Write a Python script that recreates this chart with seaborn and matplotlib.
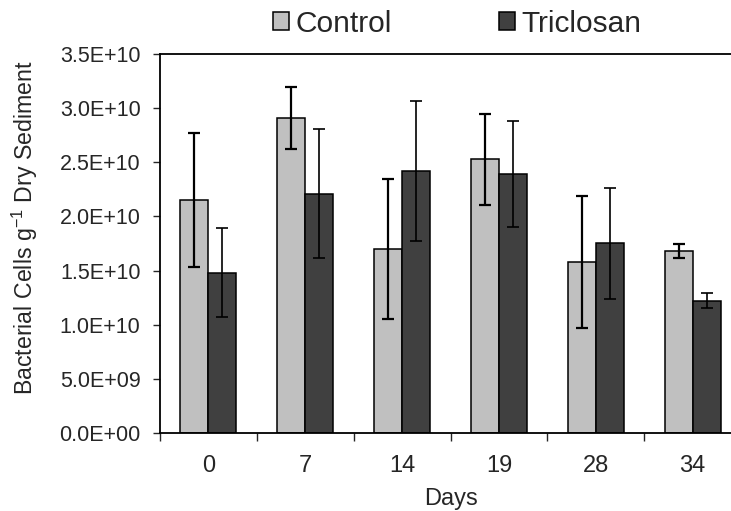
import matplotlib

matplotlib.use("Agg")
import matplotlib.pyplot as plt
import numpy as np
import pandas as pd
import seaborn as sns
from matplotlib.ticker import FuncFormatter, FixedLocator

days = ["0", "7", "14", "19", "28", "34"]
control = [2.15e10, 2.91e10, 1.70e10, 2.53e10, 1.58e10, 1.68e10]
control_err = [6.2e9, 2.85e9, 6.5e9, 4.2e9, 6.1e9, 0.65e9]
triclosan = [1.48e10, 2.21e10, 2.42e10, 2.39e10, 1.75e10, 1.22e10]
triclosan_err = [4.1e9, 5.95e9, 6.45e9, 4.9e9, 5.1e9, 0.7e9]
groups = ["Control", "Triclosan"]
colors = {"Control": "#C0C0C0", "Triclosan": "#404040"}

df = pd.DataFrame({
    "Days": days * 2,
    "Cells": control + triclosan,
    "Group": [groups[0]] * len(days) + [groups[1]] * len(days),
})

sns.set_style("ticks")
plt.rcParams["font.family"] = ["Liberation Sans", "DejaVu Sans"]
plt.rcParams["mathtext.default"] = "regular"

fig = plt.figure(figsize=(7.31, 5.11), dpi=100)
ax = fig.add_axes([160 / 731, 78 / 511, 581 / 731, 379 / 511])

sns.barplot(
    data=df, x="Days", y="Cells", hue="Group", order=days, hue_order=groups,
    palette=colors, edgecolor="black", linewidth=1.1, width=0.58, gap=0,
    errorbar=None, ax=ax,
)

for cont, err, lw in zip(ax.containers, [control_err, triclosan_err], [1.6, 1.2]):
    xs = [p.get_x() + p.get_width() / 2 for p in cont]
    ys = [p.get_height() for p in cont]
    ax.errorbar(xs, ys, yerr=err, fmt="none", ecolor="black",
                elinewidth=lw, capsize=4, capthick=lw)

ax.set_ylim(0, 3.5e10)
ax.set_xlim(-0.5, len(days) - 0.5)
ax.yaxis.set_major_locator(FixedLocator(np.arange(0, 3.51e10, 5e9)))
ax.yaxis.set_major_formatter(FuncFormatter(lambda v, _: f"{v:.1E}"))
ax.xaxis.set_minor_locator(FixedLocator(np.arange(-0.5, len(days), 1.0)))
ax.tick_params(axis="x", which="major", length=0, pad=16, labelsize=17)
ax.tick_params(axis="x", which="minor", length=6, width=1, direction="out")
ax.tick_params(axis="y", length=5, width=1, pad=9, labelsize=15.5)

for side in ["left", "bottom", "top"]:
    ax.spines[side].set_visible(True)
    ax.spines[side].set_linewidth(1.3)
    ax.spines[side].set_color("black")
ax.spines["right"].set_visible(False)

ax.set_xlabel("Days", fontsize=17)
ax.set_ylabel("Bacterial Cells g$^{-1}$ Dry Sediment", fontsize=16.7)
ax.xaxis.set_label_coords(0.5, -0.144)
ax.yaxis.set_label_coords(-0.207, 0.541)

handles, labels = ax.get_legend_handles_labels()
ax.legend(
    handles, labels, loc="center", bbox_to_anchor=(457 / 731, 1 - 24 / 511),
    bbox_transform=fig.transFigure, ncol=2, frameon=False, fontsize=21.5,
    handlelength=0.55, handleheight=0.55, handletextpad=0.2, columnspacing=3.6,
)

fig.savefig("out.png", dpi=100)
plt.close(fig)
